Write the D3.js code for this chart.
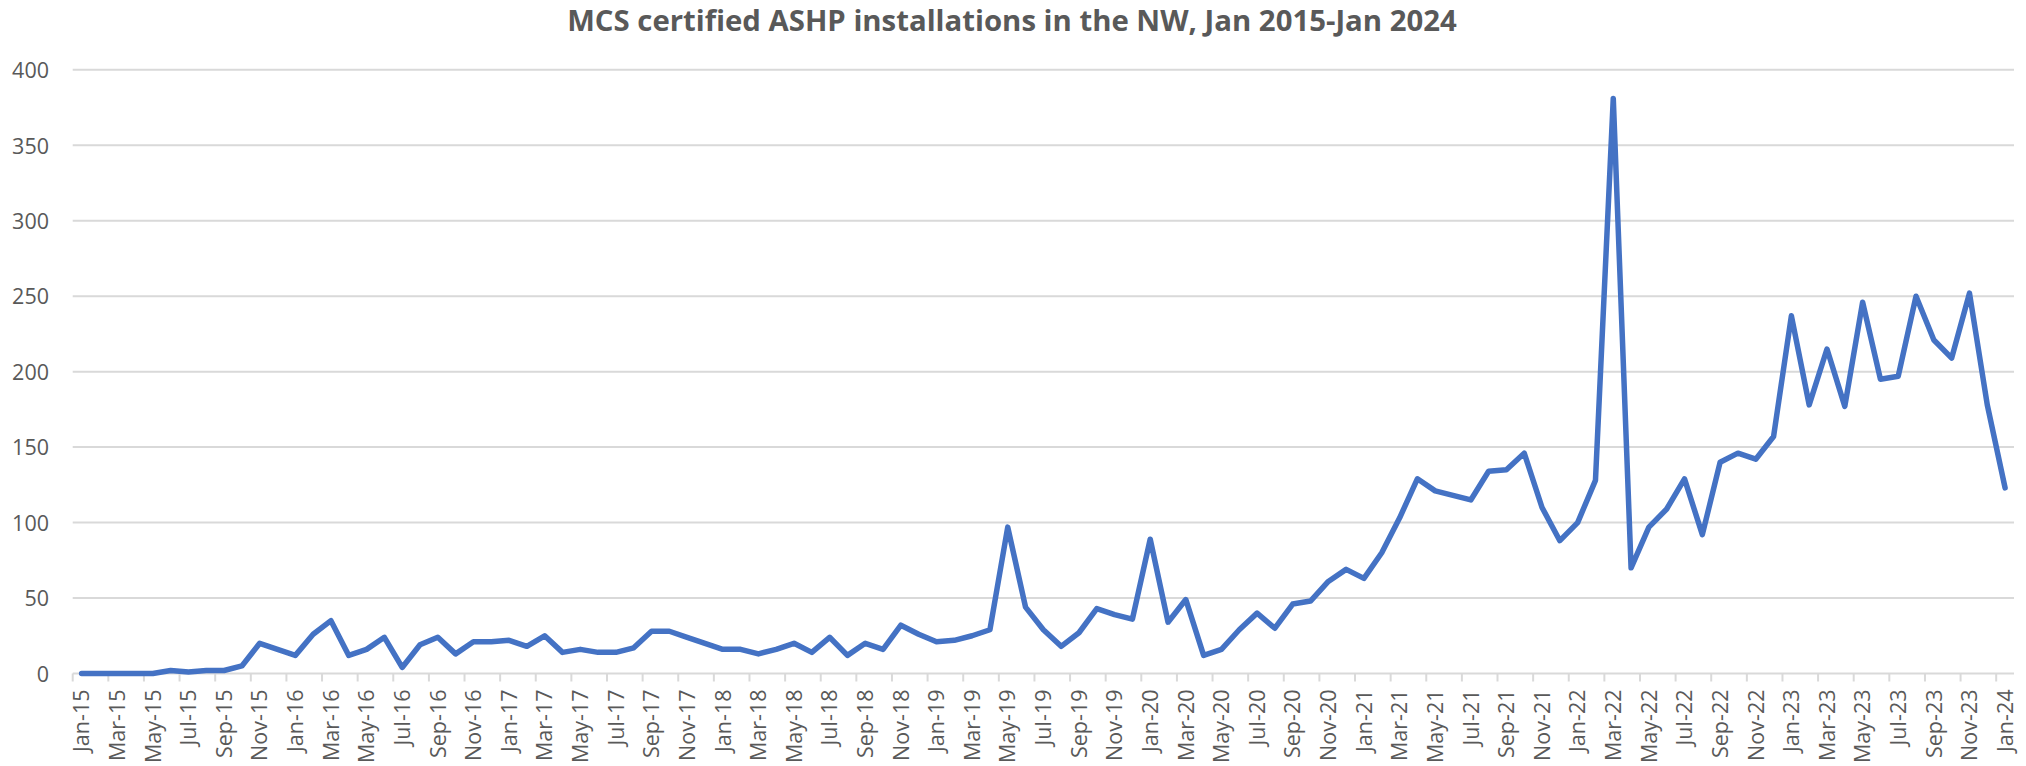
<!DOCTYPE html>
<html>
<head>
<meta charset="utf-8">
<script src="https://cdn.jsdelivr.net/npm/d3@7"></script>
<style>
  html, body { margin: 0; padding: 0; background: #ffffff; }
  svg { display: block; }
</style>
</head>
<body>
<svg id="chart" width="2026" height="766"></svg>
<script>
// ---------------- DATA ----------------
const chartTitle = "MCS certified ASHP installations in the NW, Jan 2015-Jan 2024";

const monthNames = ["Jan","Feb","Mar","Apr","May","Jun","Jul","Aug","Sep","Oct","Nov","Dec"];
const yearLabels = ["15","16","17","18","19","20","21","22","23","24"];

// categories Jan-15 ... Jan-24 (monthly)
const categories = [];
yearLabels.forEach(y => monthNames.forEach(m => categories.push(m + "-" + y)));
categories.splice(categories.indexOf("Jan-24") + 1);

const installations = [
  0, 0, 0, 0, 0, 2, 1, 2, 2, 5, 20, 16,          // 2015
  12, 26, 35, 12, 16, 24, 4, 19, 24, 13, 21, 21, // 2016
  22, 18, 25, 14, 16, 14, 14, 17, 28, 28, 24, 20, // 2017
  16, 16, 13, 16, 20, 14, 24, 12, 20, 16, 32, 26, // 2018
  21, 22, 25, 29, 97, 44, 29, 18, 27, 43, 39, 36, // 2019
  89, 34, 49, 12, 16, 29, 40, 30, 46, 48, 61, 69, // 2020
  63, 80, 103, 129, 121, 118, 115, 134, 135, 146, 110, 88, // 2021
  100, 128, 381, 70, 97, 109, 129, 92, 140, 146, 142, 157, // 2022
  237, 178, 215, 177, 246, 195, 197, 250, 221, 209, 252, 178, // 2023
  123                                             // Jan 2024
];

const yTickValues = [0, 50, 100, 150, 200, 250, 300, 350, 400];

// ---------------- LAYOUT ----------------
const W = 2026, H = 766;
const plot = { left: 72.7, right: 2014, top: 69.8, bottom: 673.5 };
const textColor = "#595959";
const gridColor = "#d9d9d9";
const lineColor = "#4472C4";
const fontFamily = "'Open Sans', 'Noto Sans', 'Liberation Sans', sans-serif";

const svg = d3.select("#chart");

const x = d3.scaleBand()
  .domain(categories)
  .range([plot.left, plot.right])
  .padding(0);

const y = d3.scaleLinear()
  .domain([0, 400])
  .range([plot.bottom, plot.top]);

// gridlines
svg.append("g")
  .selectAll("line")
  .data(yTickValues)
  .join("line")
  .attr("x1", plot.left)
  .attr("x2", plot.right)
  .attr("y1", d => y(d))
  .attr("y2", d => y(d))
  .attr("stroke", gridColor)
  .attr("stroke-width", 2);

// y axis labels
const yAxis = d3.axisLeft(y).tickValues(yTickValues).tickSize(0).tickPadding(23.7);
const gy = svg.append("g")
  .attr("transform", `translate(${plot.left},0)`)
  .call(yAxis);
gy.select(".domain").remove();
gy.selectAll("text")
  .attr("fill", textColor)
  .attr("font-family", fontFamily)
  .attr("font-size", 21.5)
  .attr("dy", "0.36em");

// x axis: tick marks at category boundaries every 2 months
const boundaryIdx = d3.range(0, categories.length + 1, 2);
svg.append("g")
  .selectAll("line")
  .data(boundaryIdx)
  .join("line")
  .attr("x1", i => i < categories.length ? x(categories[i]) : plot.right)
  .attr("x2", i => i < categories.length ? x(categories[i]) : plot.right)
  .attr("y1", plot.bottom)
  .attr("y2", plot.bottom + 8)
  .attr("stroke", gridColor)
  .attr("stroke-width", 2);

// x labels (every other month), rotated
const labelCats = categories.filter((c, i) => i % 2 === 0);
svg.append("g")
  .selectAll("text")
  .data(labelCats)
  .join("text")
  .attr("transform", d => `translate(${x(d) + x.bandwidth() / 2},${plot.bottom + 16}) rotate(-90)`)
  .attr("text-anchor", "end")
  .attr("dy", "0.36em")
  .attr("fill", textColor)
  .attr("font-family", fontFamily)
  .attr("font-size", 21.5)
  .text(d => d);

// line
const line = d3.line()
  .x((d, i) => x(categories[i]) + x.bandwidth() / 2)
  .y(d => y(d));

svg.append("path")
  .datum(installations)
  .attr("d", line)
  .attr("fill", "none")
  .attr("stroke", lineColor)
  .attr("stroke-width", 5.5)
  .attr("stroke-linejoin", "round")
  .attr("stroke-linecap", "round");

// title, fitted to reference width
const titleText = svg.append("text")
  .attr("x", 1012)
  .attr("y", 31)
  .attr("text-anchor", "middle")
  .attr("fill", textColor)
  .attr("font-family", fontFamily)
  .attr("font-weight", "bold")
  .attr("font-size", 26)
  .text(chartTitle);
const tw = titleText.node().getComputedTextLength();
if (tw > 0) titleText.attr("font-size", 26 * 890 / tw);
</script>
</body>
</html>
